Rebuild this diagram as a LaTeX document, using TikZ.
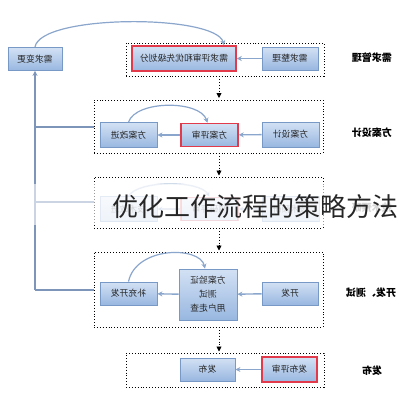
\documentclass[tikz,border=0pt]{standalone}
\usepackage{fontspec}
\setmainfont{Noto Sans CJK SC}
\usetikzlibrary{arrows.meta}
\definecolor{boxtop}{HTML}{D3E1F4}
\definecolor{boxbot}{HTML}{98B7E0}
\definecolor{boxline}{HTML}{7898C6}
\definecolor{arrowc}{HTML}{8AA6CC}
\definecolor{redb}{HTML}{E23A4A}
\tikzset{
  bbox/.style={draw=boxline, line width=0.8pt, top color=boxtop, bottom color=boxbot, minimum width=#1, minimum height=23pt, inner sep=1pt, font=\fontsize{8.8}{12}\selectfont, align=center, text=black!85},
  bbox/.default=56pt,
  rbox/.style={bbox=#1, draw=redb, line width=1.5pt},
  rbox/.default=56pt,
  frame/.style={draw=black, line width=0.9pt, dotted},
  flow/.style={draw=arrowc, line width=1.4pt, -{Stealth[length=5pt,width=5pt]}},
  down/.style={draw=black, line width=0.9pt, dotted, -{Triangle[length=5pt,width=5pt]}},
  side/.style={font=\fontsize{10}{12}\selectfont\bfseries},
  lline/.style={draw=arrowc!90!black, line width=1.6pt}
}
\newcommand{\mir}[1]{\reflectbox{#1}}
\begin{document}
\begin{tikzpicture}[x=1pt,y=-1pt]
\useasboundingbox (0,0) rectangle (400,400);
\fill[white] (0,0) rectangle (400,400);
% frames
\node[frame, minimum width=198pt, minimum height=33pt, inner sep=0pt] (f1) at (225,59.5) {};
\node[frame, minimum width=229pt, minimum height=53pt, inner sep=0pt] (f2) at (208.5,126.5) {};
\node[frame, minimum width=229pt, minimum height=51pt, inner sep=0pt] (f3) at (208.5,202.5) {};
\node[frame, minimum width=229pt, minimum height=75pt, inner sep=0pt] (f4) at (208.5,289.5) {};
\node[frame, minimum width=198pt, minimum height=34pt, inner sep=0pt] (f5) at (225,370) {};
% row 1
\node[bbox=54pt] (bg) at (35,59) {\mir{需求变更}};
\node[rbox=104pt, minimum height=25pt] (r1b) at (184,58.5) {\mir{需求评审和优先级划分}};
\node[bbox] (r1a) at (290,58.5) {\mir{需求整理}};
\node[side] (l1) at (372,58) {\mir{需求管理}};
% row 2
\node[bbox=57pt, minimum height=25pt] (r2c) at (128.5,135) {\mir{方案改进}};
\node[rbox=57pt] (r2b) at (209.5,135) {\mir{方案评审}};
\node[bbox=57pt, minimum height=25pt] (r2a) at (290.5,134.5) {\mir{方案设计}};
\node[side] (l2) at (372,133) {\mir{方案设计}};
% row 3 (faded)
\begin{scope}[opacity=0.4]
\node[bbox=57pt, minimum height=25pt] (r3c) at (128.5,209) {\mir{技术改进}};
\node[rbox=57pt] (r3b) at (209.5,209) {\mir{预研评审}};
\node[bbox=57pt, minimum height=25pt] (r3a) at (290.5,209) {\mir{技术预研}};
\node[side] (l3) at (372,208) {\mir{技术预研}};
\draw[flow] (r3a) -- (r3b);
\draw[flow] (r3b) -- (r3c);
\draw[flow] (r3c.north) .. controls (138,180) and (200,180) .. (r3b.north);
\end{scope}
% row 4
\node[bbox=57pt, minimum height=23pt] (r4c) at (128.5,293.5) {\mir{补充开发}};
\node[bbox=58pt, minimum height=51pt, font=\fontsize{8.8}{14}\selectfont] (r4b) at (208,294.5) {\mir{方案验证}\\\mir{测试}\\\mir{用户走查}};
\node[bbox=56pt, minimum height=23pt] (r4a) at (290,293.5) {\mir{开发}};
\node[side] (l4) at (371,293) {\mir{开发、测试}};
% row 5
\node[bbox=55pt, minimum height=23pt] (r5b) at (207.5,369.5) {\mir{发布}};
\node[rbox=55pt, minimum height=25pt] (r5a) at (289.5,369.5) {\mir{发布评审}};
\node[side] (l5) at (372,371) {\mir{发布}};
% flows
\draw[flow] (r1a) -- (r1b);
\draw[flow] (r2a) -- (r2b);
\draw[flow] (r2b) -- (r2c);
\draw[flow] (r4a) -- (r4b);
\draw[flow] (r4b) -- (r4c);
\draw[flow] (r5a) -- (r5b);
% arcs
\draw[flow, line width=1.2pt] (bg.north) .. controls (40,14) and (216,14) .. ([xshift=40pt]r1b.north);
\draw[flow, line width=1.2pt] (r2c.north) .. controls (136,100) and (200,100) .. ([xshift=-2pt]r2b.north);
\draw[flow, line width=1.2pt] (r4c.north) .. controls (136,246) and (200,246) .. ([xshift=-3pt]r4b.north);
% downward dotted arrows
\coordinate (d1) at (219,76);
\draw[down] (d1) -- (219,98);
\draw[down] (219,153) -- (219,175.5);
\draw[down] (219,228) -- (219,250.5);
\draw[down] (219,327) -- (219,351.5);
% left feedback line
\coordinate (j2) at (35,127);
\coordinate (j3) at (35,202);
\coordinate (j4) at (35,290);
\draw[lline] (f2.west |- j2) -- (j2);
\draw[lline] (f3.west |- j3) -- (j3);
\draw[lline] (f4.west |- j4) -- (j4);
\draw[lline, -{Stealth[length=5pt,width=5pt]}] (j4) -- (bg.south);
% overlay band and title
\fill[white, opacity=0.6] (0,184) rectangle (400,225);
\node[font=\fontsize{26}{28}\selectfont, text=black!85, inner sep=0pt] (title) at (256,207) {优化工作流程的策略方法};
\end{tikzpicture}
\end{document}
